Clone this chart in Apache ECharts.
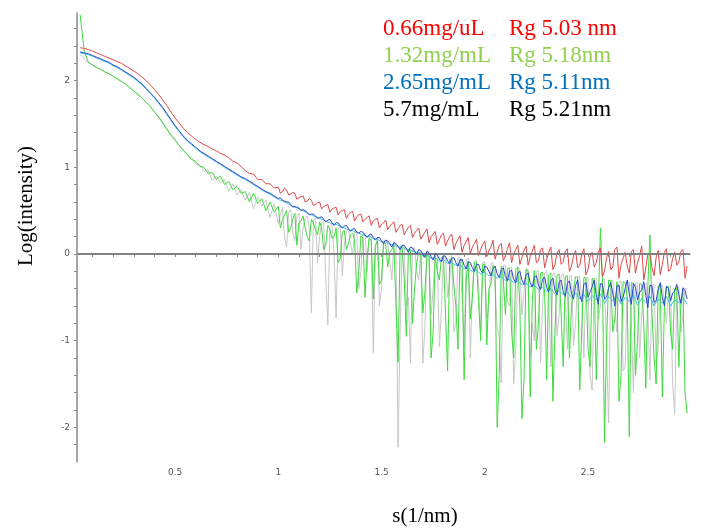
<!DOCTYPE html>
<html><head><meta charset="utf-8">
<style>html,body{margin:0;padding:0;background:#fff}#c{width:701px;height:529px}</style>
<script src="https://cdn.jsdelivr.net/npm/echarts/dist/echarts.min.js"></script>
</head><body><div id="c"></div>
<script>
// s (1/nm) sample positions, main grid
const S = [
0.04,0.06,0.08,0.10,0.12,0.14,0.16,0.18,0.20,0.22,
0.24,0.26,0.28,0.30,0.32,0.34,0.36,0.38,0.40,0.42,
0.44,0.46,0.48,0.50,0.52,0.54,0.56,0.58,0.60,0.62,
0.64,0.66,0.68,0.70,0.72,0.74,0.76,0.78,0.80,0.82,
0.84,0.86,0.88,0.90,0.92,0.94,0.96,0.98,1.00,1.02,
1.04,1.06,1.08,1.10,1.12,1.14,1.16,1.18,1.20,1.22,
1.24,1.26,1.28,1.30,1.32,1.34,1.36,1.38,1.40,1.42,
1.44,1.46,1.48,1.50,1.52,1.54,1.56,1.58,1.60,1.62,
1.64,1.66,1.68,1.70,1.72,1.74,1.76,1.78,1.80,1.82,
1.84,1.86,1.88,1.90,1.92,1.94,1.96,1.98,2.00,2.02,
2.04,2.06,2.08,2.10,2.12,2.14,2.16,2.18,2.20,2.22,
2.24,2.26,2.28,2.30,2.32,2.34,2.36,2.38,2.40,2.42,
2.44,2.46,2.48,2.50,2.52,2.54,2.56,2.58,2.60,2.62,
2.64,2.66,2.68,2.70,2.72,2.74,2.76,2.78,2.80,2.82,
2.84,2.86,2.88,2.90,2.92,2.94,2.96,2.98];

// in-between s positions for the noisy high-s region
const S_MID = [
1.01,1.03,1.05,1.07,1.09,1.11,1.13,1.15,1.17,1.19,
1.21,1.23,1.25,1.27,1.29,1.31,1.33,1.35,1.37,1.39,
1.41,1.43,1.45,1.47,1.49,1.51,1.53,1.55,1.57,1.59,
1.61,1.63,1.65,1.67,1.69,1.71,1.73,1.75,1.77,1.79,
1.81,1.83,1.85,1.87,1.89,1.91,1.93,1.95,1.97,1.99,
2.01,2.03,2.05,2.07,2.09,2.11,2.13,2.15,2.17,2.19,
2.21,2.23,2.25,2.27,2.29,2.31,2.33,2.35,2.37,2.39,
2.41,2.43,2.45,2.47,2.49,2.51,2.53,2.55,2.57,2.59,
2.61,2.63,2.65,2.67,2.69,2.71,2.73,2.75,2.77,2.79,
2.81,2.83,2.85,2.87,2.89,2.91,2.93,2.95,2.97];

// 0.66 mg/uL (red)
const RED = [
2.38,2.37,2.36,2.34,2.32,2.30,2.28,2.26,2.24,2.22,
2.20,2.17,2.14,2.11,2.08,2.04,2.00,1.95,1.90,1.84,
1.78,1.71,1.64,1.57,1.51,1.45,1.40,1.36,1.32,1.29,
1.26,1.24,1.21,1.19,1.16,1.14,1.11,1.07,1.05,1.01,
0.96,0.93,0.92,0.86,0.86,0.81,0.81,0.76,0.77,0.72,
0.74,0.69,0.70,0.65,0.67,0.61,0.62,0.57,0.60,0.55,
0.57,0.52,0.54,0.49,0.51,0.46,0.49,0.43,0.46,0.40,
0.44,0.38,0.41,0.34,0.39,0.32,0.37,0.29,0.34,0.27,
0.33,0.24,0.30,0.21,0.29,0.20,0.26,0.16,0.24,0.15,
0.23,0.12,0.21,0.10,0.19,0.08,0.17,0.05,0.15,0.04,
0.16,0.02,0.12,-0.02,0.13,0.00,0.10,-0.04,0.09,-0.03,
0.10,-0.08,0.07,-0.06,0.08,-0.12,0.05,-0.09,0.06,-0.14,
0.04,-0.13,0.06,-0.18,0.02,-0.10,0.07,-0.20,0.03,-0.15,
0.08,-0.12,0.02,-0.22,0.05,-0.10,0.09,-0.16,0.01,-0.25,
0.04,-0.12,0.06,-0.18,0.02,-0.09,0.05,-0.14];
const RED_MID = [
0.70,0.76,0.68,0.71,0.63,0.66,0.60,0.64,0.56,0.59,
0.52,0.56,0.48,0.53,0.45,0.50,0.41,0.48,0.38,0.45,
0.37,0.42,0.33,0.40,0.30,0.36,0.28,0.35,0.25,0.33,
0.22,0.31,0.19,0.27,0.17,0.25,0.13,0.23,0.11,0.22,
0.09,0.20,0.05,0.17,0.02,0.14,0.00,0.12,-0.02,0.11,
-0.03,0.08,-0.06,0.10,-0.08,0.06,-0.10,0.05,-0.12,0.04,
-0.13,0.03,-0.10,0.05,-0.16,0.02,-0.18,0.01,-0.12,0.03,
-0.20,-0.02,-0.16,0.00,-0.24,-0.03,-0.15,0.02,-0.26,-0.04,
-0.18,0.05,-0.28,-0.05,-0.14,0.03,-0.22,-0.02,-0.30,0.00,
-0.16,-0.04,-0.24,0.02,-0.20,-0.05,-0.13,0.03,-0.28];

// 1.32 mg/mL (green)
const GREEN = [
2.76,2.34,2.21,2.18,2.15,2.13,2.10,2.08,2.05,2.02,
1.99,1.96,1.92,1.88,1.84,1.80,1.75,1.70,1.64,1.58,
1.51,1.44,1.37,1.31,1.25,1.19,1.15,1.09,1.07,1.01,
1.00,0.93,0.94,0.86,0.90,0.80,0.84,0.74,0.78,0.70,
0.72,0.60,0.70,0.58,0.64,0.50,0.60,0.48,0.55,0.40,
0.50,0.30,0.47,0.36,0.44,0.20,0.40,0.28,0.37,0.05,
0.33,0.18,0.30,-0.05,0.27,0.12,0.24,-0.45,0.21,-0.50,
0.18,-0.52,0.15,-0.30,0.12,0.02,0.10,-1.25,0.07,-0.95,
0.04,-0.40,0.02,-0.68,0.00,-1.20,-0.02,-0.30,-0.03,-1.35,
-0.05,-0.60,-0.06,-1.45,-0.08,-0.50,-0.10,-1.00,-0.12,-0.40,
-0.13,-2.00,-0.14,-0.70,-0.16,-1.20,-0.15,-1.90,-0.18,-1.65,
-0.19,-0.80,-0.21,-1.45,-0.22,-0.90,-0.23,-1.30,-0.25,-0.60,
-0.26,-1.57,-0.27,-1.10,-0.28,-1.45,0.30,-2.18,-0.30,-0.90,
-0.32,-1.40,-0.33,-2.11,-0.34,-1.00,-0.35,-1.55,0.22,-1.20,
-0.37,-1.65,-0.38,-0.90,-0.40,-1.30,-0.41,-1.84];
const GREEN_MID = [
0.30,0.45,0.25,0.40,0.10,0.38,0.30,0.15,0.36,0.22,
0.30,0.10,0.28,0.20,-0.10,0.25,0.05,0.22,0.15,-0.20,
0.18,-0.05,0.16,0.10,-0.35,0.13,-0.15,0.05,-0.60,0.08,
-0.30,0.04,-0.80,-0.10,0.00,-0.45,-0.02,-0.90,-0.20,-0.04,
-0.70,-0.06,-0.35,-1.10,-0.08,-0.30,-0.75,-0.10,-0.55,-0.12,
-1.05,-0.35,-0.15,-1.40,-0.30,-0.17,-0.90,-0.18,-0.60,-1.45,
-0.20,-0.55,-1.10,-0.22,-0.45,-0.24,-1.70,-0.25,-0.70,-0.26,
-1.20,-0.40,-0.27,-0.85,-0.28,-1.30,-0.29,-0.60,-0.30,-1.00,
-0.31,-0.75,-1.70,-0.32,-0.50,-0.33,-1.40,-0.34,-0.80,-0.35,
-0.70,-1.50,-0.36,-0.60,-0.38,-1.10,-0.39,-0.55,-1.60];

// 2.65 mg/mL (blue)
const BLUE = [
2.33,2.32,2.31,2.29,2.27,2.25,2.23,2.21,2.18,2.16,
2.13,2.10,2.07,2.04,2.00,1.96,1.91,1.86,1.81,1.75,
1.69,1.62,1.55,1.48,1.42,1.36,1.31,1.27,1.23,1.19,
1.16,1.13,1.10,1.07,1.04,1.01,0.98,0.95,0.92,0.89,
0.87,0.84,0.81,0.78,0.75,0.72,0.70,0.67,0.64,0.62,
0.60,0.57,0.55,0.53,0.51,0.48,0.46,0.44,0.42,0.40,
0.39,0.36,0.36,0.32,0.32,0.29,0.29,0.25,0.26,0.22,
0.22,0.19,0.19,0.15,0.16,0.12,0.13,0.09,0.10,0.06,
0.08,0.03,0.05,0.00,0.03,-0.03,0.00,-0.06,-0.02,-0.08,
-0.05,-0.10,-0.07,-0.13,-0.09,-0.16,-0.12,-0.19,-0.14,-0.20,
-0.17,-0.23,-0.18,-0.26,-0.20,-0.29,-0.22,-0.30,-0.24,-0.33,
-0.27,-0.36,-0.29,-0.39,-0.31,-0.42,-0.33,-0.44,-0.34,-0.46,
-0.36,-0.48,-0.35,-0.50,-0.38,-0.47,-0.34,-0.52,-0.39,-0.45,
-0.37,-0.55,-0.40,-0.46,-0.34,-0.53,-0.42,-0.48,-0.36,-0.56,
-0.41,-0.50,-0.37,-0.54,-0.43,-0.47,-0.39,-0.52];
const BLUE_MID = [
0.65,0.61,0.60,0.54,0.54,0.50,0.50,0.45,0.46,0.41,
0.43,0.37,0.40,0.33,0.36,0.30,0.33,0.26,0.29,0.24,
0.25,0.19,0.23,0.16,0.19,0.12,0.15,0.08,0.12,0.05,
0.10,0.02,0.07,0.00,0.04,-0.04,0.01,-0.07,-0.01,-0.09,
-0.03,-0.11,-0.04,-0.14,-0.06,-0.17,-0.10,-0.20,-0.12,-0.22,
-0.15,-0.25,-0.14,-0.27,-0.16,-0.31,-0.19,-0.33,-0.20,-0.35,
-0.22,-0.38,-0.25,-0.41,-0.27,-0.44,-0.28,-0.47,-0.30,-0.49,
-0.31,-0.52,-0.30,-0.55,-0.33,-0.44,-0.30,-0.58,-0.35,-0.50,
-0.33,-0.60,-0.36,-0.50,-0.30,-0.58,-0.38,-0.44,-0.32,-0.62,
-0.37,-0.54,-0.33,-0.60,-0.40,-0.45,-0.35,-0.57,-0.42];

// cyan trace
const CYAN = [
2.32,2.31,2.30,2.28,2.26,2.24,2.22,2.20,2.17,2.15,
2.12,2.09,2.06,2.03,1.99,1.95,1.90,1.85,1.80,1.74,
1.68,1.61,1.54,1.47,1.41,1.35,1.30,1.26,1.22,1.18,
1.15,1.12,1.09,1.06,1.03,1.00,0.97,0.94,0.91,0.88,
0.86,0.83,0.80,0.77,0.74,0.71,0.69,0.66,0.63,0.61,
0.59,0.56,0.54,0.52,0.50,0.47,0.45,0.43,0.41,0.39,
0.37,0.35,0.34,0.32,0.30,0.28,0.27,0.25,0.23,0.21,
0.20,0.18,0.17,0.14,0.14,0.11,0.11,0.08,0.08,0.05,
0.05,0.02,0.02,-0.02,-0.01,-0.05,-0.04,-0.08,-0.07,-0.11,
-0.10,-0.13,-0.13,-0.17,-0.16,-0.20,-0.19,-0.23,-0.21,-0.25,
-0.24,-0.28,-0.26,-0.31,-0.29,-0.33,-0.31,-0.36,-0.34,-0.38,
-0.36,-0.41,-0.38,-0.43,-0.40,-0.46,-0.42,-0.47,-0.44,-0.50,
-0.45,-0.52,-0.47,-0.55,-0.48,-0.53,-0.46,-0.57,-0.49,-0.54,
-0.48,-0.58,-0.50,-0.55,-0.47,-0.59,-0.51,-0.56,-0.49,-0.60,
-0.52,-0.57,-0.49,-0.60,-0.53,-0.56,-0.50,-0.58];

// 5.7 mg/mL (gray)
const GRAY = [
2.30,2.25,2.21,2.18,2.15,2.13,2.10,2.08,2.05,2.02,
1.99,1.96,1.92,1.88,1.84,1.80,1.75,1.70,1.64,1.58,
1.52,1.45,1.38,1.33,1.25,1.21,1.14,1.11,1.04,1.03,
0.95,0.97,0.85,0.90,0.82,0.86,0.72,0.81,0.68,0.74,
0.62,0.71,0.52,0.66,0.55,0.62,0.42,0.58,0.35,0.54,
0.08,0.51,0.15,0.47,0.30,0.44,-0.68,0.41,0.20,0.38,
-0.82,0.35,-0.74,0.31,0.10,0.29,0.00,0.26,-0.20,0.24,
0.21,-1.14,0.19,-0.40,0.16,-0.10,0.14,-2.23,0.11,-0.60,
-1.26,0.07,-0.30,-1.26,0.04,-0.70,0.02,-1.07,0.00,-0.50,
-0.02,-0.80,-0.04,-1.07,-0.05,-0.40,-0.07,-0.90,-0.09,-0.60,
-0.10,-0.85,-1.49,-0.13,-0.60,-1.50,-0.15,-0.70,-0.17,-1.20,
-1.00,-0.19,-0.60,-0.20,-1.30,-0.22,-0.70,-0.23,-1.10,-0.25,
-0.80,-0.26,-1.20,-0.27,-1.57,-0.28,-0.60,-0.29,-1.95,-0.30,
-0.90,-0.31,-1.30,-0.32,-1.60,-0.33,-0.70,-0.34,-1.45,-0.35,
-1.10,-0.36,-0.80,-0.37,-1.84,-0.38,-0.70,-0.40];
const GRAY_MID = [
0.45,0.20,0.48,0.25,0.44,0.05,0.41,0.30,0.39,-0.10,
0.36,-0.30,0.32,0.00,0.30,-0.25,0.27,0.10,0.25,-0.40,
0.22,-0.20,0.20,0.05,-0.60,0.15,0.12,-0.30,0.10,-0.90,
0.08,-0.50,0.06,-0.20,0.03,-0.85,0.01,-0.40,-0.01,-0.65,
-0.03,-0.30,-0.90,-0.05,-0.50,-0.06,-1.20,-0.08,-0.35,-0.10,
-0.75,-0.11,-0.40,-0.95,-0.13,-0.55,-0.15,-1.10,-0.17,-0.45,
-0.18,-0.80,-0.20,-1.25,-0.22,-0.50,-0.23,-0.95,-0.25,-0.40,
-0.26,-1.05,-0.27,-0.55,-0.28,-1.40,-0.29,-0.75,-0.30,-1.15,
-0.31,-0.60,-0.32,-1.35,-0.33,-0.80,-0.34,-1.20,-0.35,-0.65,
-0.36,-1.25,-0.37,-0.55,-0.38,-1.50,-0.39,-0.90,-0.40];

const X_TICKS = [0.1,0.2,0.3,0.4,0.5,0.6,0.7,0.8,0.9,1.0,1.1,1.2,1.3,1.4,1.5,1.6,1.7,1.8,1.9,2.0,2.1,2.2,2.3,2.4,2.5,2.6,2.7,2.8,2.9];
const X_LABELS = [0.5,1,1.5,2,2.5];
const Y_TICKS = [-2.2,-2.0,-1.8,-1.6,-1.4,-1.2,-1.0,-0.8,-0.6,-0.4,-0.2,0,0.2,0.4,0.6,0.8,1.0,1.2,1.4,1.6,1.8,2.0,2.2,2.4,2.6];
const Y_LABELS = [-2,-1,0,1,2];
const LEGEND_CONC = ['0.66mg/uL','1.32mg/mL','2.65mg/mL','5.7mg/mL'];
const LEGEND_RG = ['Rg 5.03 nm','Rg 5.18nm','Rg 5.11nm','Rg 5.21nm'];
const LEGEND_COLORS = ['#ff0000','#92d050','#0070c0','#000000'];
const X_TITLE = 's(1/nm)';
const Y_TITLE = 'Log(intensity)';
const X_MIN = 0.025, X_MAX = 2.994, Y_MIN = -2.40, Y_MAX = 2.78;

function merge(main, mid) {
  const pts = S.map((s, i) => [s, main[i]]);
  if (mid) S_MID.forEach((s, i) => pts.push([s, mid[i]]));
  return pts.sort((a, b) => a[0] - b[0]);
}
const chart = echarts.init(document.getElementById('c'), null, {renderer: 'canvas'});

function line(name, data, color, z) {
  return {name, type: 'line', data, showSymbol: false, symbol: 'none',
    lineStyle: {color, width: 1}, z, silent: true, animation: false};
}

const serif = '"Liberation Serif","Times New Roman",serif';
const graphics = [];
LEGEND_CONC.forEach((t, i) => {
  const y = 28.5 + i * 27.2;
  graphics.push({type: 'text', x: 383, y, style: {text: t, fill: LEGEND_COLORS[i], font: '23px ' + serif, textVerticalAlign: 'middle', verticalAlign: 'middle'}});
  graphics.push({type: 'text', x: 509, y, style: {text: LEGEND_RG[i], fill: LEGEND_COLORS[i], font: '23px ' + serif, textVerticalAlign: 'middle', verticalAlign: 'middle'}});
});
graphics.push({type: 'text', x: 26, y: 206, rotation: Math.PI / 2,
  style: {text: Y_TITLE, fill: '#000', font: '21px ' + serif, textAlign: 'center', align: 'center', textVerticalAlign: 'middle', verticalAlign: 'middle'}});
graphics.push({type: 'text', x: 425, y: 516,
  style: {text: X_TITLE, fill: '#000', font: '21px ' + serif, textAlign: 'center', align: 'center', textVerticalAlign: 'middle', verticalAlign: 'middle'}});

const labelFont = {fontFamily: '"DejaVu Sans", Verdana, sans-serif', fontSize: 9, color: '#555'};

chart.setOption({
  animation: false,
  backgroundColor: '#fff',
  grid: {left: 77, right: 11, top: 13, bottom: 67, containLabel: false},
  xAxis: {type: 'value', min: X_MIN, max: X_MAX,
    axisLine: {show: true, lineStyle: {color: '#8a8a8a', width: 1.5}},
    axisTick: {show: true, length: 3, customValues: X_TICKS, lineStyle: {color: '#8a8a8a'}},
    axisLabel: Object.assign({show: true, margin: 6, customValues: X_LABELS,
      formatter: v => (X_LABELS.some(t => Math.abs(t - v) < 1e-6) ? String(+v.toFixed(2)) : '')}, labelFont),
    splitLine: {show: false}},
  yAxis: {type: 'value', min: Y_MIN, max: Y_MAX,
    axisLine: {show: true, lineStyle: {color: '#8a8a8a', width: 1.5}},
    axisTick: {show: true, length: 3, customValues: Y_TICKS, lineStyle: {color: '#8a8a8a'}},
    axisLabel: Object.assign({show: true, margin: 7, customValues: Y_LABELS,
      formatter: v => (Y_LABELS.some(t => Math.abs(t - v) < 1e-6) ? String(Math.round(v)) : '')}, labelFont),
    splitLine: {show: false}},
  graphic: graphics,
  series: [
    line('5.7mg/mL', merge(GRAY, GRAY_MID), '#c8c8c8', 1),
    line('1.32mg/mL', merge(GREEN, GREEN_MID), '#3ddc3d', 2),
    line('0.66mg/uL', merge(RED, RED_MID), '#dc4a4a', 3),
    line('cyan', merge(CYAN), '#3cc8dc', 4),
    line('2.65mg/mL', merge(BLUE, BLUE_MID), '#2f45d0', 5),
    {type: 'line', data: [], z: 10, silent: true,
      markLine: {symbol: 'none', silent: true, label: {show: false},
        lineStyle: {color: '#808080', width: 2, type: 'solid'},
        data: [{yAxis: 0}]}}
  ]
});
</script></body></html>
